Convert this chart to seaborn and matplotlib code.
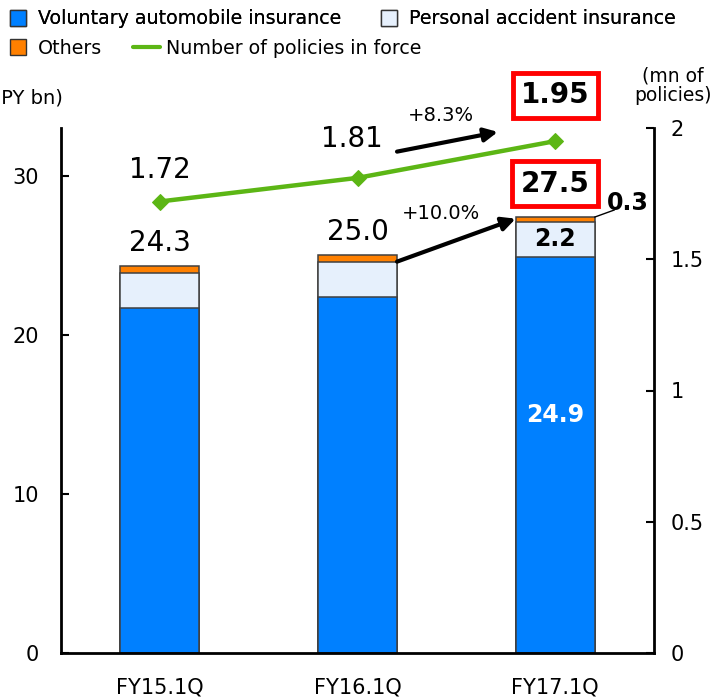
import numpy as np
import pandas as pd
import matplotlib.pyplot as plt
import seaborn as sns
from matplotlib.lines import Line2D

periods = ["FY15.1Q", "FY16.1Q", "FY17.1Q"]
voluntary_auto = [21.7, 22.4, 24.9]
personal_accident = [2.2, 2.2, 2.2]
others = [0.4, 0.4, 0.3]
total_labels = ["24.3", "25.0", "27.5"]
policies = [1.72, 1.81, 1.95]
policy_labels = ["1.72", "1.81", "1.95"]

BLUE = "#0080ff"
LIGHT = "#e6f0fc"
ORANGE = "#ff8000"
GREEN = "#5cb615"
EDGE = "#404040"


def main():
    sns.set_style("white")
    plt.rcParams["font.family"] = ["DejaVu Sans"]
    plt.rcParams["text.color"] = "black"
    plt.rcParams["xtick.color"] = "black"
    plt.rcParams["ytick.color"] = "black"
    plt.rcParams["axes.labelcolor"] = "black"

    df = pd.DataFrame({
        "period": periods,
        "auto": voluntary_auto,
        "pa": personal_accident,
        "others": others,
        "policies": policies,
    })
    df["auto_pa"] = df["auto"] + df["pa"]
    df["total"] = df["auto_pa"] + df["others"]

    fig = plt.figure(figsize=(7.14, 6.98), dpi=100)
    ax = fig.add_axes([61 / 714, 45 / 698, 593 / 714, 525 / 698])

    # stacked bars drawn back to front as cumulative totals
    for col, colr in [("total", ORANGE), ("auto_pa", LIGHT), ("auto", BLUE)]:
        sns.barplot(data=df, x="period", y=col, color=colr, width=0.4,
                    edgecolor=EDGE, linewidth=1.1, ax=ax, saturation=1)

    ax.set_xlim(-0.5, 2.5)
    ax.set_ylim(0, 33)
    ax.set_xlabel("")
    ax.set_ylabel("")
    ax.set_yticks([0, 10, 20, 30])
    ax.tick_params(axis="y", direction="in", length=6, width=1.5,
                   labelsize=15, pad=16, colors="black")
    ax.tick_params(axis="x", length=0, labelsize=15, pad=18, colors="black")
    ax.set_xticks([-0.5, 0.5, 1.5, 2.5], minor=True)
    ax.tick_params(axis="x", which="minor", direction="in", length=7, width=1.5)
    for s in ["left", "bottom"]:
        ax.spines[s].set_linewidth(2)
        ax.spines[s].set_color("black")
    ax.spines["top"].set_visible(False)
    ax.spines["right"].set_visible(False)

    # total labels above bars
    for i, row in df.iterrows():
        if i < 2:
            ax.annotate(total_labels[i], (i, row["total"]), xytext=(0, 7),
                        textcoords="offset points", ha="center", va="bottom",
                        fontsize=20)
        else:
            ax.annotate(total_labels[i], (i, row["total"]), xytext=(0, 24),
                        textcoords="offset points", ha="center", va="center",
                        fontsize=20, fontweight="bold",
                        bbox=dict(boxstyle="square,pad=0.3", fc="white",
                                  ec="#ff0000", lw=3.5))

    # segment labels for latest bar
    last = df.iloc[2]
    ax.text(2, last["auto"] / 2 + 2.5, f"{last['auto']:.1f}", ha="center",
            va="center", fontsize=17, fontweight="bold", color="white")
    ax.text(2, last["auto"] + last["pa"] / 2, f"{last['pa']:.1f}", ha="center",
            va="center", fontsize=17, fontweight="bold", color="black")
    ax.text(2.37, 28.3, f"{last['others']:.1f}", ha="center", va="center",
            fontsize=17, fontweight="bold")
    ax.annotate("", xy=(2.2, last["total"]), xytext=(2.3, 27.85),
                arrowprops=dict(arrowstyle="-", color="black", lw=1,
                                shrinkA=0, shrinkB=0))

    # growth arrow for premiums
    ax.annotate("", xy=(1.8, df["total"][2] - 0.1), xytext=(1.2, 24.6),
                arrowprops=dict(arrowstyle="-|>,head_length=0.8,head_width=0.4",
                                color="black", lw=3, shrinkA=0, shrinkB=0))
    ax.text(1.42, 27.6, "+10.0%", ha="center", va="center", fontsize=14)

    # secondary axis: policies in force
    ax2 = ax.twinx()
    sns.lineplot(x=[0, 1, 2], y=df["policies"], color=GREEN, lw=3.2,
                 marker="D", markersize=8, markeredgecolor=GREEN, ax=ax2)
    ax2.set_ylim(0, 2)
    ax2.set_yticks([0, 0.5, 1, 1.5, 2])
    ax2.set_yticklabels(["0", "0.5", "1", "1.5", "2"])
    ax2.tick_params(axis="y", direction="in", length=6, width=1.5,
                    labelsize=15, pad=12, colors="black")
    ax2.spines["right"].set_linewidth(2)
    ax2.spines["right"].set_color("black")
    for s in ["left", "top", "bottom"]:
        ax2.spines[s].set_visible(False)
    ax2.set_ylabel("")

    offs = [(0, 23), (-4, 28), (0, 33)]
    for i, v in enumerate(policies):
        if i < 2:
            ax2.annotate(policy_labels[i], (i, v), xytext=offs[i],
                         textcoords="offset points", ha="center", va="center",
                         fontsize=20)
        else:
            ax2.annotate(policy_labels[i], (i, v), xytext=offs[i],
                         textcoords="offset points", ha="center", va="center",
                         fontsize=20, fontweight="bold",
                         bbox=dict(boxstyle="square,pad=0.3", fc="white",
                                   ec="#ff0000", lw=3.5))

    ax2.annotate("", xy=(1.71, 1.985), xytext=(1.2, 1.91),
                 arrowprops=dict(arrowstyle="-|>,head_length=0.8,head_width=0.4",
                                 color="black", lw=3, shrinkA=0, shrinkB=0))
    ax2.text(1.42, 2.046, "+8.3%", ha="center", va="center", fontsize=14,
             clip_on=False)

    # axis unit labels (left one is cut at the edge, as in the source)
    fig.text(63 / 714, 1 - 98 / 698, "(JPY bn)", ha="right", va="center",
             fontsize=14)
    fig.text(673 / 714, 1 - 86 / 698, "(mn of\npolicies)", ha="center",
             va="center", fontsize=13.5, linespacing=1.05)

    # legend rows
    def sq(c):
        return Line2D([], [], marker="s", markersize=11, markerfacecolor=c,
                      markeredgecolor="#333333", markeredgewidth=1, linestyle="none")

    leg_kw = dict(frameon=False, fontsize=13.7, handlelength=1.4,
                  handletextpad=0.35, borderpad=0, borderaxespad=0, ncol=2,
                  loc="center left")
    l1 = fig.legend([sq(BLUE), sq(LIGHT)],
                    ["Voluntary automobile insurance", "Personal accident insurance"],
                    bbox_to_anchor=(5 / 714, 1 - 19 / 698), columnspacing=1.8,
                    **leg_kw)
    fig.add_artist(l1)
    fig.legend([sq(ORANGE), Line2D([], [], color=GREEN, lw=3)],
               ["Others", "Number of policies in force"],
               bbox_to_anchor=(5 / 714, 1 - 48 / 698), columnspacing=1.6,
               **leg_kw)

    fig.savefig("out.png", dpi=100)
    plt.close(fig)


if __name__ == "__main__":
    main()
